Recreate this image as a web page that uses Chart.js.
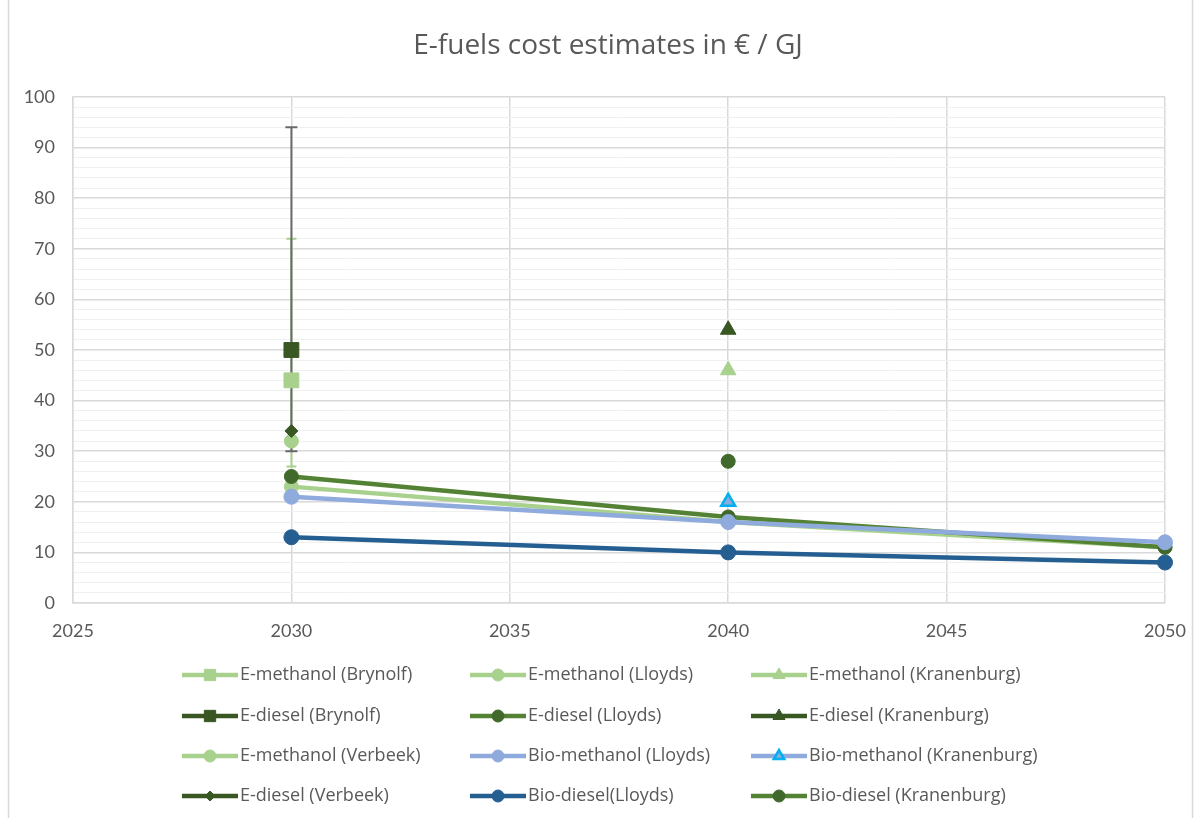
<!DOCTYPE html>
<html>
<head>
<meta charset="utf-8">
<title>E-fuels cost estimates</title>
<script src="https://cdn.jsdelivr.net/npm/chart.js@4.4.1/dist/chart.umd.min.js"></script>
<style>
  body { margin: 0; background: #fff; }
</style>
</head>
<body>
<canvas id="myChart" width="1200" height="818"></canvas>
<script>
// years on the x axis
const lloydsYears = [2030, 2040, 2050];
const year2030 = [2030];
const year2040 = [2040];

// series values (€ / GJ)
const eMethanolBrynolf = [44];
const eMethanolLloyds = [23, 16, 11];
const eMethanolKranenburg = [46];
const eDieselBrynolf = [50];
const eDieselLloyds = [25, 17, 11];
const eDieselKranenburg = [54];
const eMethanolVerbeek = [32];
const bioMethanolLloyds = [21, 16, 12];
const bioMethanolKranenburg = [20];
const eDieselVerbeek = [34];
const bioDieselLloyds = [13, 10, 8];
const bioDieselKranenburg = [28];

// error bar ranges at 2030 (low, high)
const eMethanolBrynolfErr = [27, 72];
const eDieselBrynolfErr = [30, 94];

// axis ticks
const xTicks = [2025, 2030, 2035, 2040, 2045, 2050];
const yMin = 0, yMax = 100, yMajor = 10, yMinor = 2;

const chartTitle = 'E-fuels cost estimates in € / GJ';

const lightGreen = '#a9d18e';
const darkGreen = '#385723';
const midGreen = '#548235';
const markGreen = '#40692b';
const lightBlue = '#8faadc';
const darkBlue = '#255e91';
const cyan = '#00b0f0';

function pts(xs, ys) {
    return ys.map((y, i) => ({ x: xs[i], y: y }));
}

// legend order (row by row, three columns)
const series = [
    { label: 'E-methanol (Brynolf)', data: pts(year2030, eMethanolBrynolf), line: lightGreen, fill: lightGreen, border: lightGreen, style: 'rect', r: 10.5, lr: 8 },
    { label: 'E-methanol (Lloyds)', data: pts(lloydsYears, eMethanolLloyds), line: lightGreen, fill: lightGreen, border: lightGreen, style: 'circle', r: 7, lr: 6, show: true },
    { label: 'E-methanol (Kranenburg)', data: pts(year2040, eMethanolKranenburg), line: lightGreen, fill: lightGreen, border: lightGreen, style: 'triangle', r: 9, lr: 7 },
    { label: 'E-diesel (Brynolf)', data: pts(year2030, eDieselBrynolf), line: darkGreen, fill: darkGreen, border: darkGreen, style: 'rect', r: 10.5, lr: 8 },
    { label: 'E-diesel (Lloyds)', data: pts(lloydsYears, eDieselLloyds), line: midGreen, fill: markGreen, border: markGreen, style: 'circle', r: 7, lr: 6, show: true },
    { label: 'E-diesel (Kranenburg)', data: pts(year2040, eDieselKranenburg), line: darkGreen, fill: darkGreen, border: darkGreen, style: 'triangle', r: 9, lr: 7 },
    { label: 'E-methanol (Verbeek)', data: pts(year2030, eMethanolVerbeek), line: lightGreen, fill: lightGreen, border: lightGreen, style: 'circle', r: 7, lr: 6 },
    { label: 'Bio-methanol (Lloyds)', data: pts(lloydsYears, bioMethanolLloyds), line: lightBlue, fill: lightBlue, border: lightBlue, style: 'circle', r: 7.5, lr: 6, show: true },
    { label: 'Bio-methanol (Kranenburg)', data: pts(year2040, bioMethanolKranenburg), line: lightBlue, fill: lightBlue, border: cyan, style: 'triangle', r: 8, lr: 6, bw: 2.5 },
    { label: 'E-diesel (Verbeek)', data: pts(year2030, eDieselVerbeek), line: darkGreen, fill: darkGreen, border: darkGreen, style: 'rectRot', r: 6.5, lr: 5 },
    { label: 'Bio-diesel(Lloyds)', data: pts(lloydsYears, bioDieselLloyds), line: darkBlue, fill: darkBlue, border: darkBlue, style: 'circle', r: 7.5, lr: 6, show: true },
    { label: 'Bio-diesel (Kranenburg)', data: pts(year2040, bioDieselKranenburg), line: midGreen, fill: markGreen, border: markGreen, style: 'circle', r: 7, lr: 6 }
];

const errorBars = [
    { x: 2030, range: eMethanolBrynolfErr, color: lightGreen, cap: 10 },
    { x: 2030, range: eDieselBrynolfErr, color: '#6a6a6a', cap: 12 }
];

const datasets = series.map((s, i) => ({
    label: s.label,
    data: s.data,
    showLine: !!s.show,
    clip: false,
    borderColor: s.line,
    borderWidth: 4.5,
    pointStyle: s.style,
    pointRadius: s.r,
    pointBackgroundColor: s.fill,
    pointBorderColor: s.border,
    pointBorderWidth: s.bw || 1,
    order: series.length - i   // later series drawn on top, like the original
}));

// outer frame + title
const framePlugin = {
    id: 'frame',
    beforeDraw(chart) {
        const ctx = chart.ctx;
        ctx.save();
        ctx.fillStyle = '#fff';
        ctx.fillRect(0, 0, chart.width, chart.height);
        ctx.strokeStyle = '#d9d9d9';
        ctx.lineWidth = 1.5;
        ctx.strokeRect(8.5, -5, 1184, chart.height + 10);
        ctx.fillStyle = '#595959';
        ctx.font = '28px "Open Sans", Lato, sans-serif';
        ctx.textAlign = 'center';
        ctx.textBaseline = 'middle';
        ctx.fillText(chartTitle, 608, 46);
        ctx.restore();
    }
};

// vertical error bars, drawn under the markers
const errorBarPlugin = {
    id: 'errorBars',
    beforeDatasetsDraw(chart) {
        const ctx = chart.ctx;
        const xs = chart.scales.x, ys = chart.scales.y;
        ctx.save();
        errorBars.forEach(e => {
            const px = xs.getPixelForValue(e.x);
            const lo = ys.getPixelForValue(e.range[0]);
            const hi = ys.getPixelForValue(e.range[1]);
            ctx.strokeStyle = e.color;
            ctx.lineWidth = 2;
            ctx.beginPath();
            ctx.moveTo(px, lo); ctx.lineTo(px, hi);
            ctx.moveTo(px - e.cap / 2, lo); ctx.lineTo(px + e.cap / 2, lo);
            ctx.moveTo(px - e.cap / 2, hi); ctx.lineTo(px + e.cap / 2, hi);
            ctx.stroke();
        });
        ctx.restore();
    }
};

// three-column legend below the chart
const legendPlugin = {
    id: 'gridLegend',
    afterDraw(chart) {
        const ctx = chart.ctx;
        const cols = [182, 470, 751];
        const rows = [675, 716, 756, 796];
        const lineLen = 56;
        ctx.save();
        ctx.font = '18px "Open Sans", Lato, sans-serif';
        ctx.textBaseline = 'middle';
        series.forEach((s, i) => {
            const x = cols[i % 3], y = rows[Math.floor(i / 3)];
            ctx.strokeStyle = s.line;
            ctx.lineWidth = 4.5;
            ctx.beginPath();
            ctx.moveTo(x, y); ctx.lineTo(x + lineLen, y);
            ctx.stroke();
            ctx.fillStyle = s.fill;
            ctx.strokeStyle = s.border;
            ctx.lineWidth = s.bw || 1;
            Chart.helpers.drawPoint(ctx, { pointStyle: s.style, radius: s.lr, borderWidth: s.bw || 1, rotation: 0 }, x + lineLen / 2, y);
            ctx.fillStyle = '#595959';
            ctx.fillText(s.label, x + lineLen + 2, y);
        });
        ctx.restore();
    }
};

const config = {
    type: 'scatter',
    data: { datasets: datasets },
    options: {
        responsive: false,
        animation: false,
        layout: { padding: { left: 0, right: 35, top: 97, bottom: 170 } },
        plugins: {
            legend: { display: false },
            tooltip: { enabled: false },
            title: { display: false }
        },
        scales: {
            x: {
                type: 'linear',
                min: xTicks[0],
                max: xTicks[xTicks.length - 1],
                afterBuildTicks(scale) { scale.ticks = xTicks.map(v => ({ value: v })); },
                afterFit(scale) {
                    scale.height = 45;
                    scale.paddingLeft = 0;
                    scale.paddingRight = 0;
                },
                ticks: {
                    color: '#595959',
                    padding: 17,
                    font: { family: 'Lato, "Open Sans", sans-serif', size: 18 },
                    callback: v => String(v)
                },
                grid: { color: '#d9d9d9', lineWidth: 1.5, drawTicks: false },
                border: { color: '#d9d9d9', width: 1.5 }
            },
            y: {
                min: yMin,
                max: yMax,
                afterFit(scale) { scale.width = 73; },
                ticks: {
                    stepSize: yMinor,
                    autoSkip: false,
                    color: '#595959',
                    padding: 18,
                    font: { family: 'Lato, "Open Sans", sans-serif', size: 18 },
                    callback: v => (v % yMajor === 0 ? v : '')
                },
                grid: {
                    drawTicks: false,
                    color: c => (c.tick && c.tick.value % yMajor === 0 ? '#d9d9d9' : '#f0f0f0'),
                    lineWidth: c => (c.tick && c.tick.value % yMajor === 0 ? 1.5 : 1)
                },
                border: { color: '#d9d9d9', width: 1.5 }
            }
        }
    },
    plugins: [framePlugin, errorBarPlugin, legendPlugin]
};

const myChart = new Chart(document.getElementById('myChart'), config);
</script>
</body>
</html>
